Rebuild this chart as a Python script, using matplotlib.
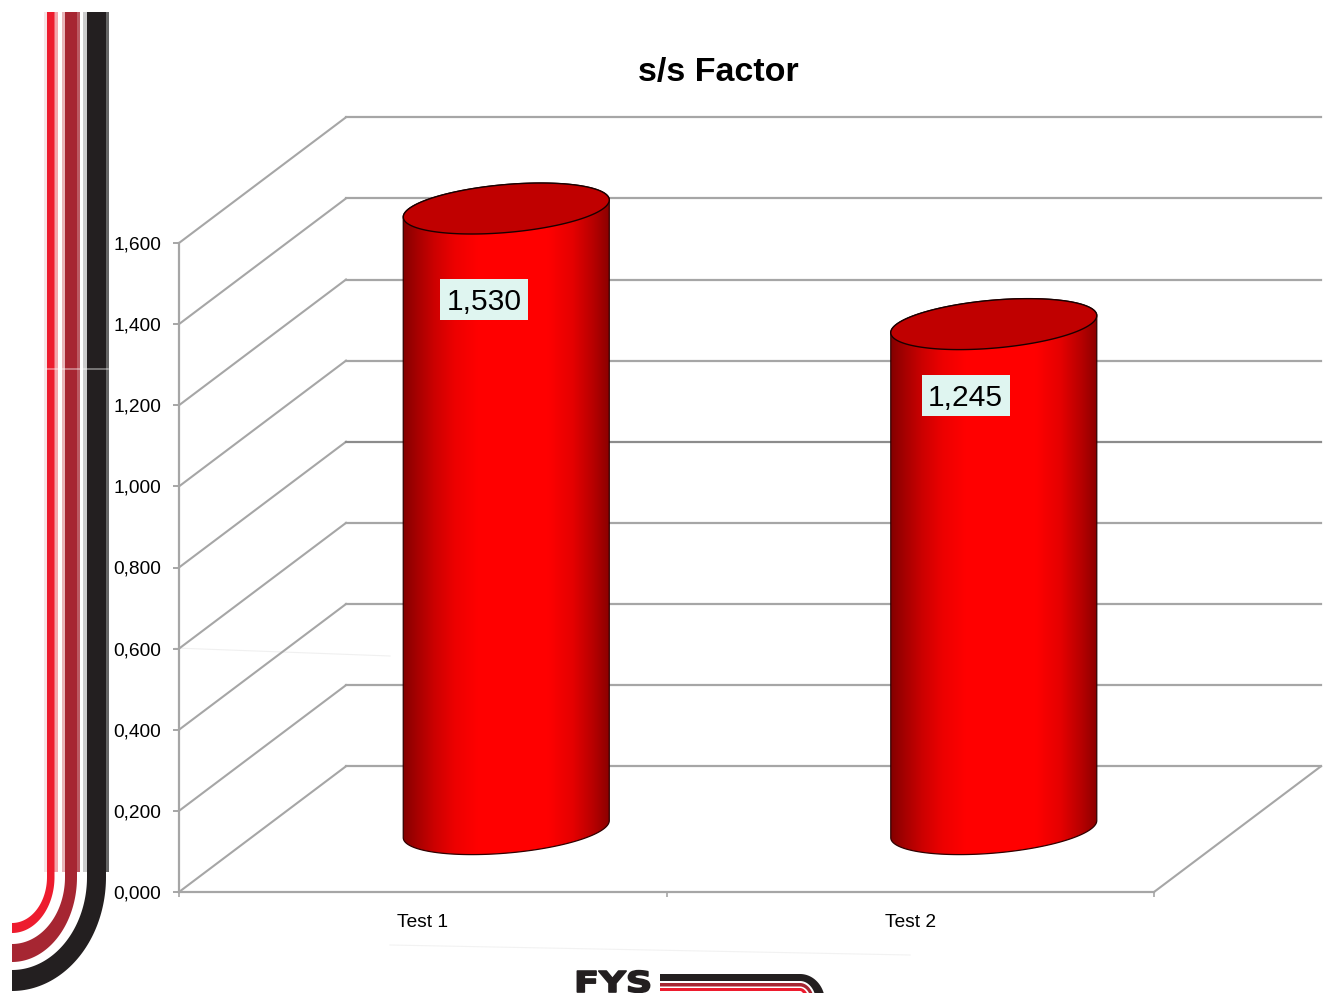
import numpy as np
import matplotlib
matplotlib.use('Agg')
import matplotlib.pyplot as plt
from matplotlib.patches import Polygon, Rectangle
from matplotlib.patheffects import AbstractPathEffect
from matplotlib.transforms import Affine2D

WIDTH = 1332
HEIGHT = 993

categories = ['Test 1', 'Test 2']
values = [1.530, 1.245]
y_ticks = [0.0, 0.2, 0.4, 0.6, 0.8, 1.0, 1.2, 1.4, 1.6]

# oblique offset of the back wall, in axis units
DEPTH_X = 0.3426
DEPTH_Y = 0.31
BAR_BASE = 0.155
BAR_HALF_WIDTH = 0.2113
CAP_TILT = 0.021
CAP_MINOR = 0.0592
GRID_COLOR = '#a6a6a6'

plt.rcParams['font.family'] = ['Liberation Sans', 'DejaVu Sans']


class StretchX(AbstractPathEffect):
    """Widen and embolden glyphs around a fixed x position (display px)."""

    def __init__(self, x0, factor, weight):
        super().__init__()
        self.x0 = x0
        self.factor = factor
        self.weight = weight

    def draw_path(self, renderer, gc, tpath, affine, rgbFace=None):
        stretch = Affine2D().translate(-self.x0, 0).scale(self.factor, 1).translate(self.x0, 0)
        gc0 = renderer.new_gc()
        gc0.copy_properties(gc)
        gc0.set_linewidth(self.weight)
        gc0.set_foreground(rgbFace)
        renderer.draw_path(gc0, tpath, affine + stretch, rgbFace)
        gc0.restore()


def arc(cx, cy, rx, ry, start, end):
    t = np.radians(np.linspace(start, end, 60))
    return np.column_stack([cx + rx * np.cos(t), cy + ry * np.sin(t)])


def draw_side_stripe(ax, x_outer, x_inner, ry_outer, ry_inner, color):
    cx, cy = 12, 877
    outer = arc(cx, cy, x_outer - cx, ry_outer, 0, 90)
    inner = arc(cx, cy, x_inner - cx, ry_inner, 90, 0)
    pts = np.vstack([[x_outer, 12], outer, inner, [x_inner, 12]])
    ax.add_patch(Polygon(pts, closed=True, fc=color, ec='none'))


def draw_fringe(ax, x_left, x_right, color):
    # soft edge along the straight part of a stripe
    ax.add_patch(Rectangle((x_left, 12), x_right - x_left, 860, fc=color, ec='none'))


def draw_logo_stripe(ax, y_outer, y_inner, rx_outer, rx_inner, color):
    cx, cy = 800, 1002
    outer = arc(cx, cy, rx_outer, cy - y_outer, -90, 0)
    inner = arc(cx, cy, rx_inner, cy - y_inner, 0, -90)
    pts = np.vstack([[660, y_outer], outer, inner, [660, y_inner]])
    ax.add_patch(Polygon(pts, closed=True, fc=color, ec='none'))


def draw_decoration(fig):
    ax = fig.add_axes([0, 0, 1, 1], zorder=0)
    ax.set_xlim(0, WIDTH)
    ax.set_ylim(HEIGHT, 0)
    ax.axis('off')
    draw_fringe(ax, 44, 47, '#f6e4e6')
    draw_fringe(ax, 54, 58, '#f4a6ac')
    draw_fringe(ax, 62, 65, '#e8b6ba')
    draw_fringe(ax, 76, 80, '#bb5a63')
    draw_fringe(ax, 83, 87, '#cccccc')
    draw_fringe(ax, 104.5, 109, '#666666')
    draw_side_stripe(ax, 54.5, 47, 56, 46, '#ed1c2e')
    draw_side_stripe(ax, 77, 65, 85, 67, '#a62632')
    draw_side_stripe(ax, 106, 87, 114, 93, '#231f20')
    ax.plot([46, 108], [369, 369], color='white', lw=1.2, alpha=0.45)
    # faint scan marks around the plot
    ax.plot([175, 390], [648, 656], color='#f0f0f0', lw=0.8)
    ax.plot([390, 910], [945, 955], color='#f2f2f2', lw=0.8)

    draw_logo_stripe(ax, 974, 981, 25, 16, '#231f20')
    draw_logo_stripe(ax, 983, 986.5, 14, 11, '#a62632')
    draw_logo_stripe(ax, 988, 991, 9, 5, '#ed1c2e')
    ax.text(574, 992, 'FYS', family='DejaVu Sans', fontweight='bold', fontsize=20.7,
            color='#231f20', ha='left', va='baseline',
            path_effects=[StretchX(574, 1.28, 1.2)])
    ax.text(718, 73, 's/s Factor', fontsize=24.5, fontweight='bold', ha='center', va='center',
            color='black')


def draw_walls(ax):
    x_max = len(categories)
    for v in y_ticks[1:]:
        ax.plot([0, DEPTH_X], [v, v + DEPTH_Y], color=GRID_COLOR, lw=1.5, clip_on=False, zorder=1)
    for v in y_ticks:
        color = '#8c8c8c' if v == 0.8 else GRID_COLOR
        ax.plot([DEPTH_X, x_max + DEPTH_X], [v + DEPTH_Y, v + DEPTH_Y], color=color, lw=1.6,
                clip_on=False, zorder=1)
    # floor
    ax.plot([0, DEPTH_X], [0, DEPTH_Y], color=GRID_COLOR, lw=1.5, clip_on=False, zorder=1)
    ax.plot([x_max, x_max + DEPTH_X], [0, DEPTH_Y], color=GRID_COLOR, lw=1.5, clip_on=False, zorder=1)


def draw_cylinder(ax, index, value):
    cx = index + 0.5 + DEPTH_X / 2
    top = BAR_BASE + value
    t = np.linspace(0, 2 * np.pi, 240)
    ex = cx + BAR_HALF_WIDTH * np.cos(t)
    ey = CAP_TILT * np.cos(t) - CAP_MINOR * np.sin(t)
    half = len(t) // 2

    body_x = np.concatenate([ex[:half], ex[half:]])
    body_y = np.concatenate([BAR_BASE + ey[:half], top + ey[half:]])
    body = Polygon(np.column_stack([body_x, body_y]), closed=True, fc='none', ec='#300000',
                   lw=0.9, clip_on=False, zorder=4)
    ax.add_patch(body)

    # horizontal shading across the cylinder
    stops = [0.0, 0.06, 0.15, 0.25, 0.36, 0.7, 0.82, 0.92, 1.0]
    levels = [0.52, 0.64, 0.8, 0.93, 1.0, 1.0, 0.9, 0.72, 0.54]
    shade = np.interp(np.linspace(0, 1, 256), stops, levels)
    gradient = np.zeros((1, 256, 3))
    gradient[0, :, 0] = shade
    im = ax.imshow(gradient, extent=[cx - BAR_HALF_WIDTH, cx + BAR_HALF_WIDTH, 0, top + CAP_MINOR * 2],
                   aspect='auto', interpolation='bilinear', zorder=3)
    im.set_clip_box(ax.figure.bbox)
    im.set_clip_path(body)

    cap = Polygon(np.column_stack([ex, top + ey]), closed=True, fc='#c00000', ec='#1a0000',
                  lw=1.0, clip_on=False, zorder=5)
    ax.add_patch(cap)


fig = plt.figure(figsize=(WIDTH / 100, HEIGHT / 100), dpi=100, facecolor='white')
draw_decoration(fig)

chart = fig.add_axes([179 / WIDTH, (HEIGHT - 892) / HEIGHT, 975 / WIDTH, 649 / HEIGHT], zorder=1)
chart.patch.set_alpha(0)
draw_walls(chart)

for i, val in enumerate(values):
    draw_cylinder(chart, i, val)

# the value boxes were placed by hand on the bars
label_x = [0.6256, 1.6135]
label_y = [1.4596, 1.2229]
box_w = 0.1805
box_h = 0.101
for x, y, val in zip(label_x, label_y, values):
    chart.add_patch(Rectangle((x - box_w / 2, y - box_h / 2), box_w, box_h, fc='#dff5f0', ec='none', zorder=6))
    chart.text(x, y - 0.006, f'{val:.3f}'.replace('.', ','), fontsize=21.6, color='black',
               ha='center', va='center', zorder=7)

chart.set_xlim(0, len(categories))
chart.set_ylim(0, y_ticks[-1])
for side in ['top', 'right']:
    chart.spines[side].set_visible(False)
for side in ['left', 'bottom']:
    chart.spines[side].set_color(GRID_COLOR)
    chart.spines[side].set_linewidth(1.6)

chart.set_yticks(y_ticks)
chart.set_yticklabels([f'{v:.3f}'.replace('.', ',') for v in y_ticks], fontsize=13.8)
chart.tick_params(axis='y', length=4.3, width=1.4, color=GRID_COLOR, pad=8.4)

chart.set_xticks(range(len(categories) + 1))
chart.set_xticklabels([])
chart.tick_params(axis='x', which='major', length=3.6, width=1.2, color=GRID_COLOR)
chart.set_xticks([i + 0.5 for i in range(len(categories))], minor=True)
chart.set_xticklabels(categories, minor=True, fontsize=13.8)
chart.tick_params(axis='x', which='minor', length=0, pad=16)

fig.savefig('out.png', dpi=100)
